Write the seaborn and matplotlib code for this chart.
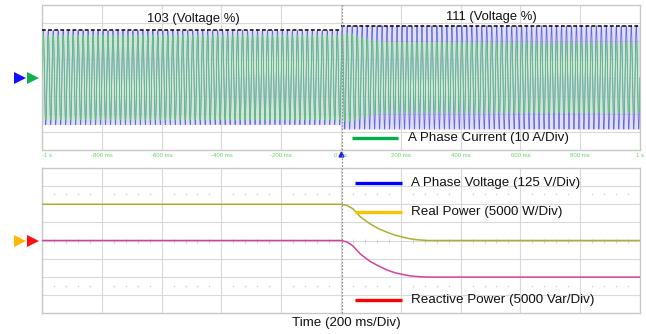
import numpy as np
import pandas as pd
import matplotlib
matplotlib.use("Agg")
import matplotlib.pyplot as plt
import seaborn as sns
from matplotlib.lines import Line2D

# ---------------- data ----------------
tick_ms = [-1000, -800, -600, -400, -200, 0, 200, 400, 600, 800, 1000]
tick_labels = ["-1 s", "-800 ms", "-600 ms", "-400 ms", "-200 ms", "0 ms",
               "200 ms", "400 ms", "600 ms", "800 ms", "1 s"]
voltage_pct = [103, 111]              # before / after the step at 0 ms
voltage_peak_div = [2.6, 2.85]        # peak of A phase voltage trace (div)
line_freq_hz = 60

env_ms = [-1000, 0, 20, 40, 65, 97, 125, 153, 180, 208, 230, 255, 290, 1000]
real_power_div = [2.0, 2.0, 1.93, 1.75, 1.3, 0.92, 0.66, 0.46, 0.3, 0.18, 0.1, 0.04, 0.0, 0.0]
reactive_power_div = [0.0, 0.0, -0.08, -0.3, -0.75, -1.15, -1.4, -1.62, -1.78, -1.88, -1.95, -1.99, -2.02, -2.02]
current_peak_div = [2.35, 2.35, 2.45, 2.4, 2.25, 2.1, 2.02, 1.98, 1.96, 1.95, 1.95, 1.95, 1.95, 1.95]

legend_top = ["A Phase Current (10 A/Div)"]
legend_bottom = ["A Phase Voltage (125 V/Div)", "Real Power (5000 W/Div)",
                 "Reactive Power (5000 Var/Div)"]

# ---------------- style ----------------
sns.set_theme(style="white")
plt.rcParams["font.family"] = ["Liberation Sans", "DejaVu Sans"]

W, H = 646, 334
fig = plt.figure(figsize=(W / 100, H / 100), dpi=100)

def fx(px):
    return px / W

def fy(py):
    return 1 - py / H

ax1 = fig.add_axes([fx(42), fy(150), fx(640) - fx(42), fy(5) - fy(150)])
ax2 = fig.add_axes([fx(42), fy(313), fx(640) - fx(42), fy(168) - fy(313)])

grid_c = "#d9d9d9"
for ax in (ax1, ax2):
    ax.set_xlim(-1000, 1000)
    ax.set_ylim(-4, 4)
    for s in ax.spines.values():
        s.set_color("#c8c8c8")
        s.set_linewidth(1.0)
    ax.set_yticks([])
    for xv in range(-800, 1000, 200):
        ax.axvline(xv, color=grid_c, lw=0.8, zorder=0)
    for yv in range(-3, 4):
        ax.axhline(yv, color=grid_c, lw=0.8, zorder=0)

# ---------------- top panel : waveforms ----------------
t = np.linspace(-1000, 1000, 2 * line_freq_hz * 28 + 1)
v_amp = np.where(t < 0, voltage_peak_div[0], voltage_peak_div[1])
i_amp = np.interp(t, env_ms, current_peak_div)
carrier = np.sin(2 * np.pi * line_freq_hz * t / 1000.0)
wave = pd.DataFrame({"t": t, "v": v_amp * carrier, "i": i_amp * carrier})

ax1.fill_between(t, -v_amp, v_amp, color="#c4c4ee", alpha=0.55, lw=0, zorder=1)
ax1.fill_between(t, -i_amp, i_amp, color="#c4eec4", alpha=0.6, lw=0, zorder=1)
sns.lineplot(data=wave, x="t", y="v", ax=ax1, color="#4848d8", lw=0.55,
             alpha=0.8, estimator=None, sort=False, zorder=2)
sns.lineplot(data=wave, x="t", y="i", ax=ax1, color="#62d06e", lw=0.55,
             alpha=0.85, estimator=None, sort=False, zorder=3)

# black peak-level trace
ax1.plot([-1000, 0], [voltage_peak_div[0]] * 2, color="black", lw=1.1,
         ls=(0, (2.5, 1.5)), zorder=4)
ax1.plot([0, 1000], [voltage_peak_div[1]] * 2, color="black", lw=1.1,
         ls=(0, (2.5, 1.5)), zorder=4)

ax1.text(0.2525, 0.903, f"{voltage_pct[0]} (Voltage %)", transform=ax1.transAxes,
         ha="center", va="center", fontsize=9.4, color="#111111", zorder=6)
ax1.text(0.751, 0.917, f"{voltage_pct[1]} (Voltage %)", transform=ax1.transAxes,
         ha="center", va="center", fontsize=9.4, color="#111111", zorder=6)

ax1.set_xticks(tick_ms)
ax1.set_xticklabels(tick_labels, fontsize=4.3, color="#66d466")
ax1.get_xticklabels()[0].set_ha("left")
ax1.tick_params(axis="x", length=0, pad=2.5)
ax1.set_xlabel("")
ax1.set_ylabel("")

ax1.plot([0.518, 0.595], [0.083, 0.083], transform=ax1.transAxes, color="#00b050",
         lw=2.4, solid_capstyle="butt", zorder=6)
ax1.text(0.612, 0.083, legend_top[0], transform=ax1.transAxes, ha="left",
         va="center", fontsize=9.6, color="#111111", zorder=6)

# trigger marker
ax1.plot([0], [-0.03], marker="^", ms=3.5, color="#1a1aff",
         transform=ax1.get_xaxis_transform(), clip_on=False, zorder=7)

# left channel markers
ax1.plot([-0.0368], [0], marker=">", ms=9, color="#1010ff", mew=0,
         transform=ax1.get_yaxis_transform(), clip_on=False)
ax1.plot([-0.0150], [0], marker=">", ms=9, color="#10b050", mew=0,
         transform=ax1.get_yaxis_transform(), clip_on=False)

# ---------------- bottom panel : powers ----------------
pw = pd.DataFrame({"t": env_ms, "p": real_power_div, "q": reactive_power_div})
sns.lineplot(data=pw, x="t", y="p", ax=ax2, color="#aab030", lw=1.1,
             estimator=None, sort=False, zorder=3)
sns.lineplot(data=pw, x="t", y="q", ax=ax2, color="#d6409a", lw=1.1,
             estimator=None, sort=False, zorder=3)
ax2.set_xticks([])
ax2.set_xlabel("")
ax2.set_ylabel("")

minor_x = [x for x in range(-960, 1000, 40) if x % 200 != 0]
for yv in (2.55, -2.5):
    ax2.plot(minor_x, [yv] * len(minor_x), ls="none", marker="+", ms=2.0,
             mew=0.45, color="#d6d6d6", zorder=1)
ax2.plot(minor_x, [0] * len(minor_x), ls="none", marker="|", ms=2.5,
         mew=0.5, color="#c0c0c0", zorder=1)

sw_y = [0.897, 0.697, 0.090]
sw_c = ["#0000ff", "#ffc000", "#ff0000"]
for yy, cc, lab in zip(sw_y, sw_c, legend_bottom):
    ax2.plot([0.523, 0.602], [yy, yy], transform=ax2.transAxes, color=cc, lw=2.4,
             solid_capstyle="butt", zorder=6)
    ax2.text(0.617, yy, lab, transform=ax2.transAxes, ha="left", va="center",
             fontsize=9.6, color="#111111", zorder=6)

ax2.plot([-0.0368], [0], marker=">", ms=9, color="#ffb800", mew=0,
         transform=ax2.get_yaxis_transform(), clip_on=False)
ax2.plot([-0.0150], [0], marker=">", ms=9, color="#ff1010", mew=0,
         transform=ax2.get_yaxis_transform(), clip_on=False)

# t = 0 vertical dashed marker across both panels
x0 = fx(341.5)
fig.add_artist(Line2D([x0, x0], [fy(313), fy(5)], color="#8c8c8c", lw=0.8,
                      ls=(0, (1.5, 1.5)), zorder=5))

fig.text(fx(346), fy(323), "Time (200 ms/Div)", ha="center", va="center",
         fontsize=9.6, color="#111111")

fig.savefig("out.png", dpi=100)
